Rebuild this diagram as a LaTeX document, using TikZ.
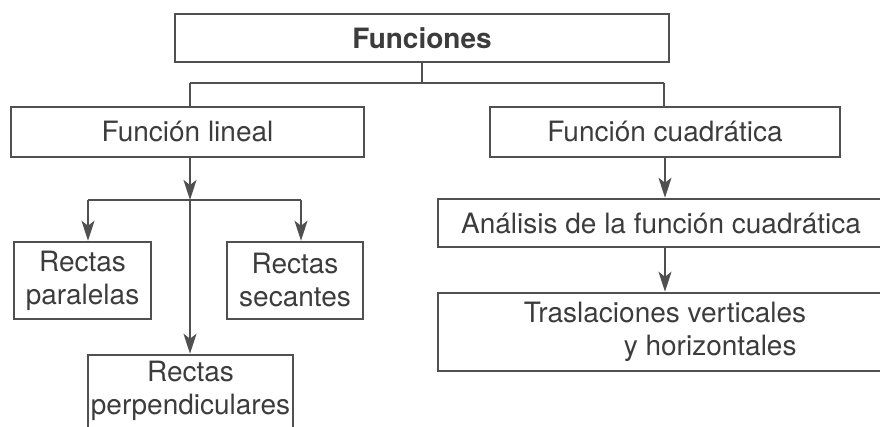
\documentclass[tikz,border=0pt]{standalone}
\usepackage{fontspec}
\setmainfont{TeX Gyre Heros}
\usetikzlibrary{arrows.meta}
\definecolor{ink}{HTML}{3C3C3C}
\definecolor{edge}{HTML}{505050}
\tikzset{
  box/.style={draw=edge, line width=1.25pt, rectangle, inner sep=0pt, text=ink, align=center,
    font=\fontsize{14}{16.5}\selectfont},
  txt/.style={inner sep=0pt, text=ink, align=left, font=\fontsize{14}{16.5}\selectfont},
  conn/.style={draw=edge, line width=0.8pt},
  arr/.style={conn, -{Stealth[length=10pt,width=6.5pt,inset=2.5pt]}}
}
\begin{document}
\begin{tikzpicture}[x=0.5pt,y=-0.5pt]
\useasboundingbox (0,0) rectangle (880,427);
\clip (0,0) rectangle (880,427);
% nodes
\node[box, minimum width=494*0.5pt, minimum height=48*0.5pt, font=\fontsize{14}{16.5}\selectfont\bfseries] (fun) at (422,38) {Funciones};
\node[box, minimum width=353*0.5pt, minimum height=50*0.5pt] (lin) at (187.5,132) {Función lineal};
\node[box, minimum width=350*0.5pt, minimum height=50*0.5pt] (cua) at (665,132) {Función cuadrática};
\node[box, minimum width=137*0.5pt, minimum height=77*0.5pt] (par) at (82.5,280.5) {Rectas\\paralelas};
\node[box, minimum width=136*0.5pt, minimum height=77*0.5pt] (sec) at (295,280.5) {Rectas\\secantes};
\node[box, minimum width=205*0.5pt, minimum height=100*0.5pt] (perbox) at (190.5,405) {};
\node[txt, align=center] (pertxt) at (190.5,391) {Rectas\\perpendiculares};
\node[box, minimum width=446*0.5pt, minimum height=48*0.5pt] (ana) at (661,223) {Análisis de la función cuadrática};
\node[box, minimum width=446*0.5pt, minimum height=78*0.5pt] (tras) at (661,332) {};
\node[txt] (trastxt) at (665,332) {Traslaciones verticales\\\hspace*{50pt}y horizontales};
% junctions
\coordinate (j1) at (422,83);
\coordinate (jl) at (190,83);
\coordinate (jr) at (664,83);
\coordinate (j2) at (190,200);
\coordinate (j2l) at (88,200);
\coordinate (j2r) at (301,200);
% connectors
\draw[conn] (fun.south -| j1) -- (j1);
\draw[conn] (jl) -- (jr);
\draw[conn] (jl) -- (jl |- lin.north);
\draw[conn] (jr) -- (jr |- cua.north);
\draw[arr] (lin.south -| j2) -- (j2);
\draw[conn] (j2l) -- (j2r);
\draw[arr] (j2l) -- (j2l |- par.north);
\draw[arr] (j2r) -- (j2r |- sec.north);
\draw[arr] (j2) -- (j2 |- perbox.north);
\draw[arr] (cua.south) -- (cua.south |- ana.north);
\draw[arr] (ana.south -| cua.south) -- (cua.south |- tras.north);
\end{tikzpicture}
\end{document}
